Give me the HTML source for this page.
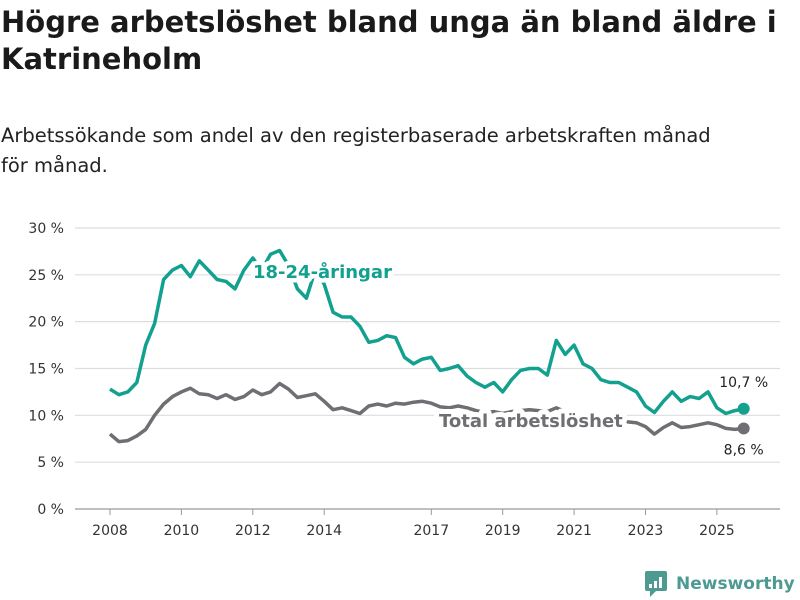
<!DOCTYPE html>
<html><head><meta charset="utf-8">
<style>
body{margin:0;background:#fff;width:800px;height:600px;overflow:hidden;font-family:"DejaVu Sans","Liberation Sans",sans-serif;color:#222}
h1{position:absolute;left:1px;top:4px;margin:0;font-size:29px;line-height:37px;font-weight:bold;color:#1a1a1a;width:800px}
p{position:absolute;left:1px;top:121px;margin:0;font-size:19.5px;line-height:30px;color:#222;width:715px}
svg{position:absolute;left:0;top:0;font-family:"DejaVu Sans","Liberation Sans",sans-serif}
</style></head><body>
<h1>Högre arbetslöshet bland unga än bland äldre i Katrineholm</h1>
<p>Arbetssökande som andel av den registerbaserade arbetskraften månad för månad.</p>
<svg id="chart" width="800" height="600"></svg>
<script>
const yTicks=[0,5,10,15,20,25,30];
const yTickLabels=["0 %","5 %","10 %","15 %","20 %","25 %","30 %"];
const xTicks=[2008,2010,2012,2014,2017,2019,2021,2023,2025];
const startYear=2008, step=0.25;
const youth=[12.8,12.2,12.5,13.5,17.5,19.8,24.5,25.5,26.0,24.8,26.5,25.5,24.5,24.3,23.5,25.5,26.8,25.5,27.2,27.6,26.0,23.5,22.5,25.5,24.0,21.0,20.5,20.5,19.5,17.8,18.0,18.5,18.3,16.2,15.5,16.0,16.2,14.8,15.0,15.3,14.2,13.5,13.0,13.5,12.5,13.8,14.8,15.0,15.0,14.3,18.0,16.5,17.5,15.5,15.0,13.8,13.5,13.5,13.0,12.5,11.0,10.3,11.5,12.5,11.5,12.0,11.8,12.5,10.8,10.2,10.5,10.7];
const total=[8.0,7.2,7.3,7.8,8.5,10.0,11.2,12.0,12.5,12.9,12.3,12.2,11.8,12.2,11.7,12.0,12.7,12.2,12.5,13.4,12.8,11.9,12.1,12.3,11.5,10.6,10.8,10.5,10.2,11.0,11.2,11.0,11.3,11.2,11.4,11.5,11.3,10.9,10.8,11.0,10.8,10.5,10.3,10.4,10.2,10.4,10.5,10.6,10.5,10.4,10.8,10.4,10.2,10.0,9.8,9.6,9.4,9.3,9.3,9.2,8.8,8.0,8.7,9.2,8.7,8.8,9.0,9.2,9.0,8.6,8.5,8.6];
const lastLabels=["10,7 %","8,6 %"];
const ns="http://www.w3.org/2000/svg";
const svg=document.getElementById('chart');
const x=t=>110+(t-2008)*35.7;
const y=v=>509-v*9.367;
function el(tag,attrs,parent){const e=document.createElementNS(ns,tag);for(const k in attrs)e.setAttribute(k,attrs[k]);(parent||svg).appendChild(e);return e;}
yTicks.forEach((v,i)=>{
  const g=el('line',{x1:75,x2:780,y1:y(v),y2:y(v),stroke:v===0?'#999':'#ddd','stroke-width':1.2});
  
  
  const t=el('text',{x:64,y:y(v)+5,'text-anchor':'end','font-size':14,fill:'#333'});
  t.textContent=yTickLabels[i];
  
  
});
xTicks.forEach(yr=>{
  const tk=el('line',{x1:x(yr),x2:x(yr),y1:509,y2:515,stroke:'#999'});
  
  
  const t=el('text',{x:x(yr),y:535,'text-anchor':'middle','font-size':14,fill:'#333'});
  t.textContent=yr;
  
  
});
function path(arr){return arr.map((v,i)=>(i?'L':'M')+x(startYear+i*step).toFixed(1)+','+y(v).toFixed(1)).join('');}
const pt=el('path',{d:path(total),fill:'none',stroke:'#6f6e73','stroke-width':3.5,'stroke-linejoin':'round'});


const py=el('path',{d:path(youth),fill:'none',stroke:'#12a08f','stroke-width':3.5,'stroke-linejoin':'round'});


const li=youth.length-1, lx=x(startYear+li*step);
const d1=el('circle',{cx:lx,cy:y(youth[li]),r:6,fill:'#12a08f'});


const d2=el('circle',{cx:lx,cy:y(total[li]),r:6,fill:'#6f6e73'});


const l1=el('text',{x:lx,y:y(youth[li])-22,'text-anchor':'middle','font-size':14,fill:'#222'});
l1.textContent=lastLabels[0];


const l2=el('text',{x:lx,y:y(total[li])+26,'text-anchor':'middle','font-size':14,fill:'#222'});
l2.textContent=lastLabels[1];


const s1=el('text',{x:253,y:278,'font-size':18,'font-weight':'bold',fill:'#12a08f',stroke:'#fff','stroke-width':9,'paint-order':'stroke','stroke-linejoin':'round'});
s1.textContent='18-24-åringar';


const s2=el('text',{x:439,y:427,'font-size':18,'font-weight':'bold',fill:'#6f6e73',stroke:'#fff','stroke-width':10,'paint-order':'stroke','stroke-linejoin':'round'});
s2.textContent='Total arbetslöshet';


const lg=el('g',{});


el('rect',{x:645,y:571,width:22,height:20,rx:2,fill:'#4d9a92'},lg);
el('path',{d:'M650,591 L650,597 L656,591 Z',fill:'#4d9a92'},lg);
[[649,584,3,4],[654,581,3,7],[659,577,3,11]].forEach(r=>el('rect',{x:r[0],y:r[1],width:r[2],height:r[3],fill:'#fff'},lg));
const lt=el('text',{x:676,y:589,'font-size':17,'font-weight':'bold',fill:'#4d9a92'},lg);
lt.textContent='Newsworthy';
</script>
</body></html>
